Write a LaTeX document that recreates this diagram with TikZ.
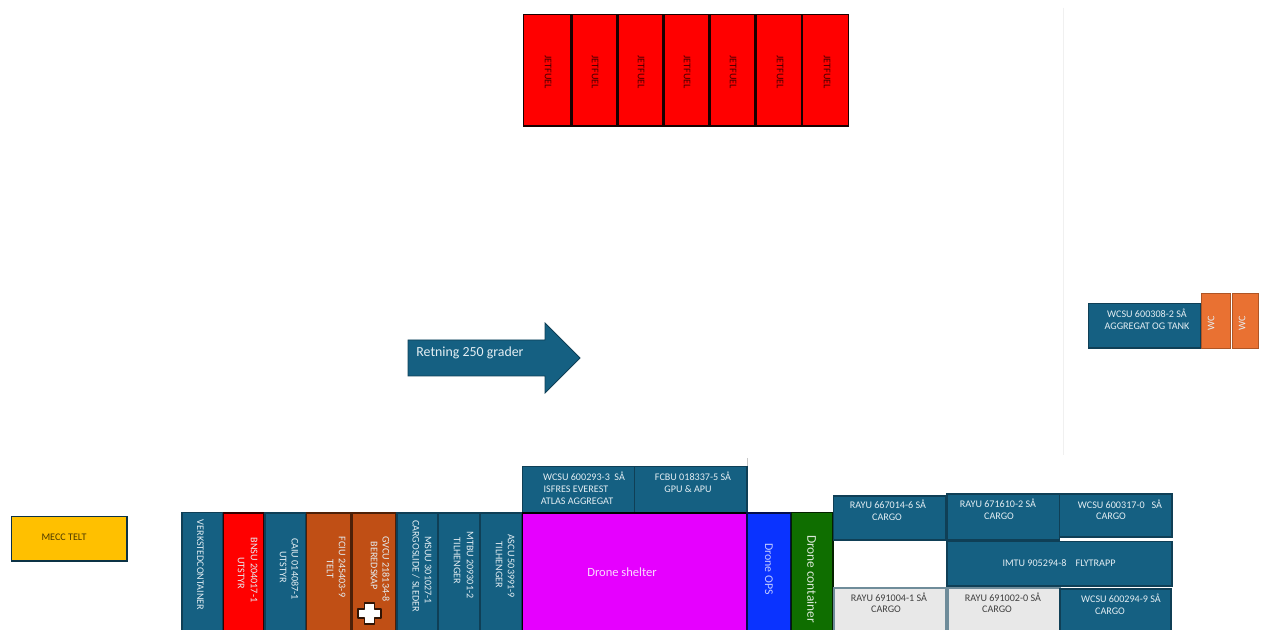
\documentclass[tikz,border=0pt]{standalone}
\usepackage{fontspec}
\setmainfont{Carlito}
\definecolor{cblue}{HTML}{156082}
\definecolor{cedge}{HTML}{0F3F56}
\definecolor{corange}{HTML}{C04F15}
\definecolor{cwc}{HTML}{E97132}
\definecolor{cgray}{HTML}{E8E8E8}
\definecolor{cgreen}{HTML}{0F6E00}
\definecolor{cmag}{HTML}{E600FF}
\definecolor{cdrone}{HTML}{0A33FF}
\definecolor{cyell}{HTML}{FFC000}
\definecolor{ctxt}{HTML}{E4EEF3}
\definecolor{cdark}{HTML}{404040}
\tikzset{
  x=0.75pt,y=-0.75pt,
  boxbase/.style={draw=cedge,line width=1pt,inner sep=0pt,outer sep=0pt,anchor=north west},
  bluebox/.style={boxbase,fill=cblue},
  redbox/.style={boxbase,fill=red,draw=black!80!red},
  fuelbox/.style={boxbase,fill=red,draw=black!90!red,line width=1pt},
  orangebox/.style={boxbase,fill=corange,draw=black!60!corange},
  wcbox/.style={boxbase,fill=cwc,draw=black!25!cwc,line width=.7pt},
  graybox/.style={boxbase,fill=cgray,draw=cedge!60!white,line width=.8pt},
  magbox/.style={boxbase,fill=cmag,draw=black},
  dronebox/.style={boxbase,fill=cdrone,draw=black!70!cdrone},
  greenbox/.style={boxbase,fill=cgreen,draw=black!70!cgreen},
  yellbox/.style={boxbase,fill=cyell,draw=cedge!80!black},
  lab/.style={inner sep=0pt,text=ctxt,font=\fontsize{7.6pt}{9pt}\selectfont},
  darklab/.style={lab,text=cdark},
  blacklab/.style={lab,text=black!75!red},
  arrowlab/.style={lab,font=\fontsize{10.4pt}{12pt}\selectfont},
  shelterlab/.style={lab,text=white!85!cmag,font=\fontsize{9.4pt}{11pt}\selectfont},
  opslab/.style={lab,rotate=-90,text=white!75!cdrone,font=\fontsize{8.9pt}{10pt}\selectfont},
  contlab/.style={lab,rotate=-90,text=white!85!cgreen,font=\fontsize{10pt}{12pt}\selectfont},
  vert/.style={rotate=-90},
}
\newcommand{\bx}[6]{%
  \pgfmathsetmacro{\bw}{(#5-#3)*0.75}%
  \pgfmathsetmacro{\bh}{(#6-#4)*0.75}%
  \node[#2,minimum width=\bw pt,minimum height=\bh pt] (#1) at (#3,#4) {};}
\newcommand{\tx}[5][lab]{\node[#1] (#2) at (#3,#4) {#5};}
\begin{document}
\begin{tikzpicture}
\useasboundingbox (0,0) rectangle (1286,630);
\clip (0,0) rectangle (1286,630);
\fill[white] (0,0) rectangle (1286,630);
\draw[black!6,line width=.5pt] (1063,8) -- (1063,455);
\draw[black!22,line width=.7pt] (747,458) -- (747,467);

% jet fuel row
\bx{f1}{fuelbox}{523.5}{14.5}{571}{126}
\bx{f2}{fuelbox}{572}{14.5}{617}{126}
\bx{f3}{fuelbox}{618}{14.5}{663}{126}
\bx{f4}{fuelbox}{664}{14.5}{709}{126}
\bx{f5}{fuelbox}{710}{14.5}{755}{126}
\bx{f6}{fuelbox}{756}{14.5}{802}{126}
\bx{f7}{fuelbox}{802}{14.5}{848.5}{126}
\tx[blacklab,vert]{ft1}{548}{72}{JETFUEL}
\tx[blacklab,vert]{ft2}{595}{72}{JETFUEL}
\tx[blacklab,vert]{ft3}{641}{72}{JETFUEL}
\tx[blacklab,vert]{ft4}{687}{72}{JETFUEL}
\tx[blacklab,vert]{ft5}{733}{72}{JETFUEL}
\tx[blacklab,vert]{ft6}{780}{72}{JETFUEL}
\tx[blacklab,vert]{ft7}{827}{72}{JETFUEL}

% direction arrow
\draw[draw=cedge,fill=cblue,line width=.6pt,line join=miter]
  (408,340) -- (545,340) -- (545,323) -- (580,358) -- (545,393) -- (545,376) -- (408,376) -- cycle;
\tx[arrowlab]{arrowt}{470}{353}{Retning 250 grader}

% right group
\bx{wcsu8}{bluebox}{1088.5}{303.5}{1201}{348}
\bx{wc1}{wcbox}{1201}{293}{1230}{348}
\bx{wc2}{wcbox}{1232}{293}{1258}{348}
\tx{w8a}{1147}{313}{WCSU 600308-2 SÅ}
\tx{w8b}{1147}{326}{AGGREGAT OG TANK}
\tx[lab,rotate=90]{wct1}{1211}{323}{WC}
\tx[lab,rotate=90]{wct2}{1242}{323}{WC}

% yellow tent
\bx{mecc}{yellbox}{11.5}{516.5}{127}{561}
\tx[darklab,text=black!70!cyell]{mecct}{64}{537}{MECC TELT}

% vertical row
\bx{verk}{bluebox}{182}{512.5}{222.5}{650}
\bx{bnsu}{redbox}{223.5}{513}{264}{650}
\bx{caiu}{bluebox}{265}{513}{306}{650}
\bx{fciu}{orangebox}{306.5}{513}{351}{650}
\bx{gvcu}{orangebox}{352}{513}{396}{650}
\bx{msuu}{bluebox}{397}{513}{437.5}{650}
\bx{mtbu}{bluebox}{438.5}{513}{479.5}{650}
\bx{ascu}{bluebox}{480.5}{513}{522}{650}
\tx[lab,vert]{verkt}{200.5}{565}{VERKSTEDCONTAINER}
\tx[lab,vert]{bn1}{254}{570}{BNSU 204017-1}
\tx[lab,vert]{bn2}{241}{573}{UTSTYR}
\tx[lab,vert]{ca1}{295}{569}{CAIU 014087-1}
\tx[lab,vert]{ca2}{283}{567}{UTSTYR}
\tx[lab,vert]{fc1}{342}{567}{FCIU 245403-9}
\tx[lab,vert]{fc2}{330}{569}{TELT}
\tx[lab,vert]{gv1}{386}{569}{GVCU 218134-8}
\tx[lab,vert]{gv2}{374}{566}{BEREDSKAP}
\tx[lab,vert]{ms1}{428}{570}{MSUU 301027-1}
\tx[lab,vert]{ms2}{416}{566}{CARGOSLIDE / SLEDER}
\tx[lab,vert]{mt1}{470}{565}{MTBU 209301-2}
\tx[lab,vert]{mt2}{457}{561}{TILHENGER}
\tx[lab,vert]{as1}{511}{566}{ASCU 503991-9}
\tx[lab,vert]{as2}{499}{565}{TILHENGER}
% first-aid cross
\draw[fill=white,draw=black!75!corange,line width=1pt,line join=round]
  (364.5,603) -- (374.5,603) -- (374.5,609) -- (381,609) -- (381,618) -- (374.5,618) -- (374.5,624)
  -- (364.5,624) -- (364.5,618) -- (358,618) -- (358,609) -- (364.5,609) -- cycle;

% centre
\bx{wcsu3}{bluebox}{522.5}{466.5}{634.5}{513}
\bx{fcbu}{bluebox}{634.5}{466.5}{747}{513}
\tx{w3a}{584}{476}{WCSU 600293-3\ \ SÅ}
\tx{w3b}{576}{489}{ISFRES EVEREST}
\tx{w3c}{577}{501}{ATLAS AGGREGAT}
\tx{fca}{693}{476}{FCBU 018337-5\ SÅ}
\tx{fcb}{688}{489}{GPU \& APU}
\bx{shelter}{magbox}{522.5}{513}{747}{650}
\bx{ops}{dronebox}{747}{513}{790.5}{650}
\bx{cont}{greenbox}{791.5}{512.5}{833}{650}
\tx[shelterlab]{shelt}{622}{572}{Drone shelter}
\tx[opslab]{opst}{769}{569}{Drone OPS}
\tx[contlab]{contt}{812}{579}{Drone container}

% cargo block
\bx{r1}{bluebox}{833.5}{496}{946}{540}
\bx{r2}{bluebox}{947}{494}{1059.5}{540}
\bx{r3}{bluebox}{1059.5}{494}{1172}{537}
\bx{imtu}{bluebox}{947}{541.5}{1172}{586}
\bx{g1}{graybox}{834}{588}{946}{650}
\bx{g2}{graybox}{948}{588}{1060}{650}
\bx{r4}{bluebox}{1060}{589}{1171}{650}
\tx{r1a}{888}{504}{RAYU 667014-6 SÅ}
\tx{r1b}{887}{517}{CARGO}
\tx{r2a}{998}{503}{RAYU 671610-2 SÅ}
\tx{r2b}{999}{516}{CARGO}
\tx{r3a}{1120}{504}{WCSU 600317-0\ \ \ SÅ}
\tx{r3b}{1111}{516}{CARGO}
\tx{imt}{1059}{563}{IMTU 905294-8\ \ \ \ FLYTRAPP}
\tx[darklab]{g1a}{889}{597}{RAYU 691004-1 SÅ}
\tx[darklab]{g1b}{886}{609}{CARGO}
\tx[darklab]{g2a}{1003}{597}{RAYU 691002-0 SÅ}
\tx[darklab]{g2b}{997}{609}{CARGO}
\tx{r4a}{1121}{598}{WCSU 600294-9 SÅ}
\tx{r4b}{1110}{611}{CARGO}
\end{tikzpicture}
\end{document}
